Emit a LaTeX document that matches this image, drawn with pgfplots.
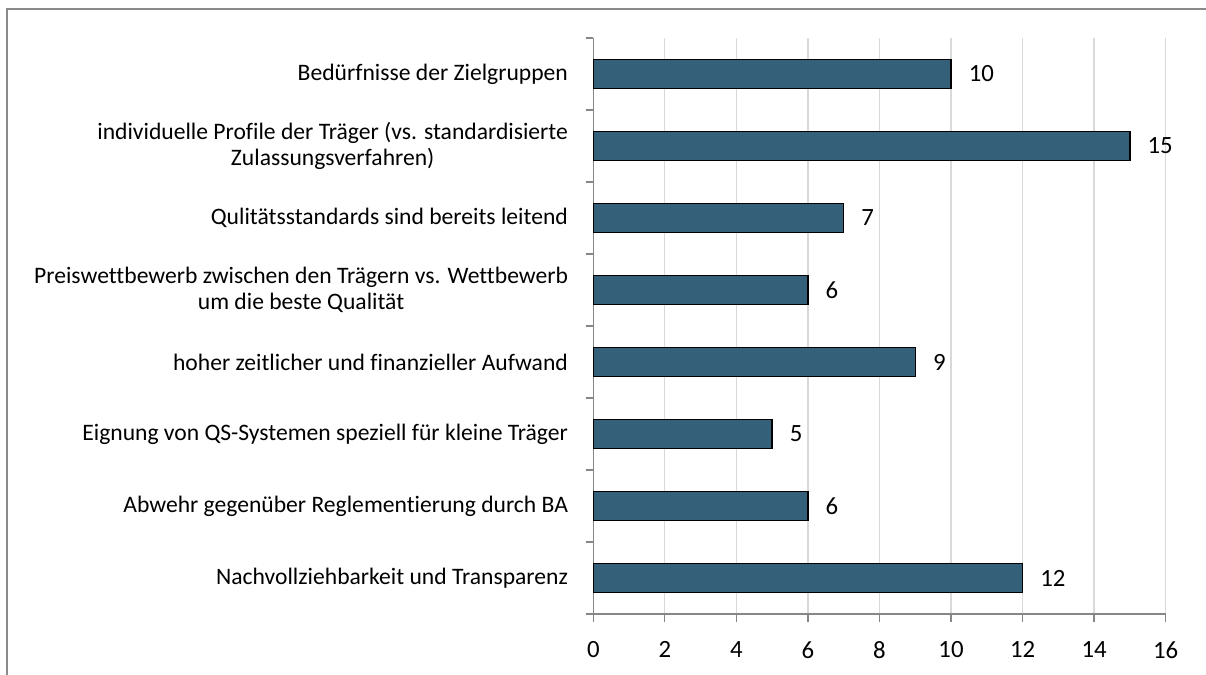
\documentclass[border=0pt]{standalone}
\usepackage{fontspec}
\setmainfont{Carlito}[Ligatures=NoCommon]
\usepackage{pgfplots}
\pgfplotsset{compat=1.18}
\definecolor{BAR}{HTML}{34607A}
\definecolor{AXIS}{HTML}{878787}
\definecolor{GRID}{HTML}{D9D9D9}
\definecolor{FRAME}{HTML}{898989}
\newcommand{\lab}{\fontsize{11.8}{13}\selectfont}
\newcommand{\num}{\fontsize{12.4}{14}\selectfont}

\begin{document}
\begin{tikzpicture}
\path[use as bounding box] (0,0) rectangle (603pt,-337.5pt);
\draw[FRAME, line width=1pt] (3.5pt,-337.5pt) -- (3.5pt,-4.5pt) -- (603pt,-4.5pt);
\begin{axis}[
  at={(296.65pt,-307pt)}, anchor=south west,
  scale only axis, width=286.2pt, height=288pt,
  xbar, bar width=14.5pt,
  xmin=0, xmax=16, ymin=-0.5, ymax=7.5,
  xtick={0,2,...,16}, minor xtick={0,2,...,16},
  ytick={0,...,7}, minor ytick={-0.5,0.5,...,7.5},
  yticklabels={
    Nachvollziehbarkeit und Transparenz,
    Abwehr gegenüber Reglementierung durch BA,
    Eignung von QS-Systemen speziell für kleine Träger,
    hoher zeitlicher und finanzieller Aufwand,
    {Preiswettbewerb zwischen den Trägern vs. Wettbewerb\\um die beste Qualität},
    Qulitätsstandards sind bereits leitend,
    {individuelle Profile der Träger (vs. standardisierte\\Zulassungsverfahren)},
    Bedürfnisse der Zielgruppen},
  major tick length=0pt, minor tick length=3.8pt, tick align=outside,
  axis x line*=bottom, axis y line*=left,
  axis line style={draw=AXIS, line width=0.65pt, -},
  tick style={draw=AXIS, line width=0.65pt},
  xmajorgrids, grid style={draw=GRID, line width=0.65pt},
  /pgf/number format/assume math mode=true,
  every tick label/.append style={text=black},
  yticklabel style={font=\lab, align=center, inner sep=0pt, anchor=east, xshift=-12.5pt},
  xticklabel style={font=\num, inner sep=0pt, anchor=north, yshift=-13.5pt},
  nodes near coords,
  nodes near coords style={anchor=west, inner sep=0pt, xshift=8.5pt, font=\num, text=black},
  clip=false,
]
\addplot[fill=BAR, draw=black, line width=0.75pt] coordinates {
(12,0) (6,1) (5,2) (9,3) (6,4) (7,5) (15,6) (10,7)
};
\end{axis}
\end{tikzpicture}
\end{document}
